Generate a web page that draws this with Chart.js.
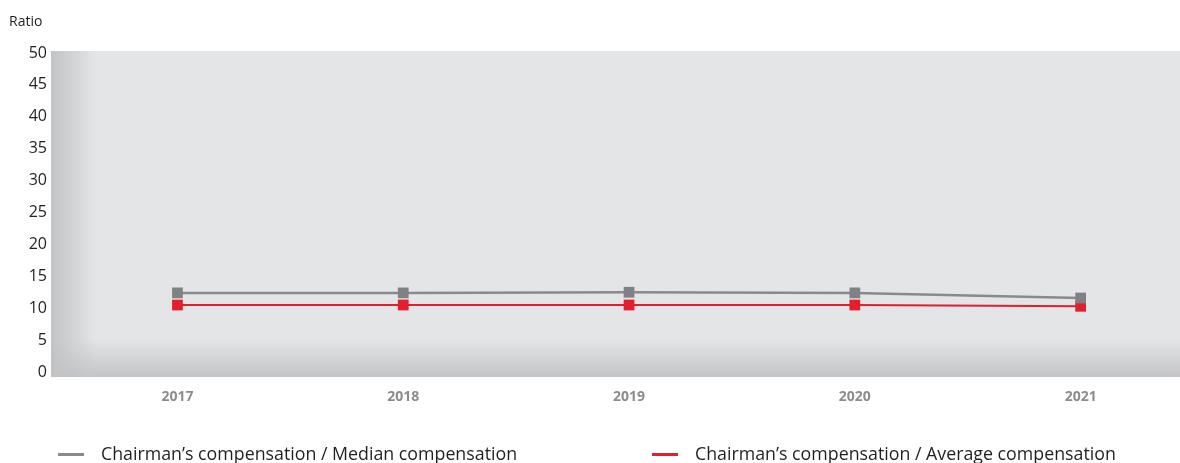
<!DOCTYPE html>
<html>
<head>
<meta charset="utf-8">
<script src="https://cdn.jsdelivr.net/npm/chart.js@4"></script>
<style>
	html, body { margin: 0; padding: 0; background: #fff; overflow: hidden; }
	#wrap { position: relative; width: 1180px; height: 463px; font-family: "Open Sans", sans-serif; }
	#ratioLabel { position: absolute; left: 9px; top: 11px; font-size: 14px; color: #231f20; }
	.legendItem { position: absolute; top: 441px; font-size: 17.8px; color: #231f20; white-space: nowrap; line-height: 24px; }
	.legendItem span.swatch { display: inline-block; width: 26px; height: 3px; vertical-align: middle; margin-right: 17px; position: relative; top: -1px; }
</style>
</head>
<body>
<div id="wrap">
	<canvas id="ratioChart" width="1180" height="463"></canvas>
	<div id="ratioLabel">Ratio</div>
	<div class="legendItem" style="left:58px;"><span class="swatch" style="background:#8a8a8c;"></span>Chairman’s compensation / Median compensation</div>
	<div class="legendItem" style="left:652px;"><span class="swatch" style="background:#e31e2d;"></span>Chairman’s compensation / Average compensation</div>
</div>
<script>
const years = [2017, 2018, 2019, 2020, 2021];
const medianRatio = [12.4, 12.4, 12.5, 12.4, 11.6];
const averageRatio = [10.5, 10.5, 10.5, 10.5, 10.3];
const yTicks = [0, 5, 10, 15, 20, 25, 30, 35, 40, 45, 50];

document.addEventListener('DOMContentLoaded', function() {
	let canvas = document.getElementById('ratioChart');

	// shaded plot background
	const plotBackground = {
		id: 'plotBackground',
		beforeDraw: function(chart) {
			let ctx = chart.ctx;
			let a = chart.chartArea;
			let top = a.top - 2, bottom = a.bottom + 5, left = a.left, right = a.right;
			ctx.save();
			ctx.fillStyle = '#e4e5e7';
			ctx.fillRect(left, top, right - left, bottom - top);

			let gb = ctx.createLinearGradient(0, bottom - 38, 0, bottom);
			gb.addColorStop(0, 'rgba(196,197,199,0)');
			gb.addColorStop(1, 'rgba(196,197,199,1)');
			ctx.fillStyle = gb;
			ctx.fillRect(left, bottom - 38, right - left, 38);

			let gl = ctx.createLinearGradient(left, 0, left + 45, 0);
			gl.addColorStop(0, 'rgba(194,195,197,1)');
			gl.addColorStop(1, 'rgba(194,195,197,0)');
			ctx.fillStyle = gl;
			ctx.fillRect(left, top, 45, bottom - top);
			ctx.restore();
		}
	};

	new Chart(canvas, {
		type: 'line',
		data: {
			datasets: [
				{
					label: 'Chairman’s compensation / Median compensation',
					data: years.map((y, i) => ({ x: y, y: medianRatio[i] })),
					borderColor: '#8a8a8c',
					backgroundColor: '#808184',
					borderWidth: 2.5,
					pointStyle: 'rect',
					pointRadius: 7.6,
					pointBorderWidth: 0,
					pointHoverRadius: 7.6
				},
				{
					label: 'Chairman’s compensation / Average compensation',
					data: years.map((y, i) => ({ x: y, y: averageRatio[i] })),
					borderColor: '#e31e2d',
					backgroundColor: '#e31e2d',
					borderWidth: 2,
					pointStyle: 'rect',
					pointRadius: 7.6,
					pointBorderWidth: 0,
					pointHoverRadius: 7.6
				}
			]
		},
		options: {
			responsive: false,
			animation: false,
			layout: { autoPadding: false, padding: { top: 53, right: 0, left: 0, bottom: 0 } },
			plugins: {
				legend: { display: false },
				tooltip: { enabled: false }
			},
			scales: {
				x: {
					type: 'linear',
					min: 2016.44,
					max: 2021.44,
					afterBuildTicks: function(scale) {
						scale.ticks = years.map(v => ({ value: v }));
					},
					afterFit: function(scale) {
						scale.height = 91;
						scale.paddingLeft = 0;
						scale.paddingRight = 0;
					},
					grid: { display: false, drawTicks: false },
					border: { display: false },
					ticks: {
						padding: 17,
						color: '#8c8c8e',
						font: { family: 'Open Sans', size: 14, weight: 'bold' },
						callback: function(v) { return String(v); }
					}
				},
				y: {
					min: 0,
					max: 50,
					afterBuildTicks: function(scale) {
						scale.ticks = yTicks.map(v => ({ value: v }));
					},
					afterFit: function(scale) { scale.width = 51; },
					grid: { display: false, drawTicks: false },
					border: { display: false },
					ticks: {
						padding: 4,
						color: '#231f20',
						font: { family: 'Open Sans', size: 16 }
					}
				}
			}
		},
		plugins: [plotBackground]
	});
});
</script>
</body>
</html>
